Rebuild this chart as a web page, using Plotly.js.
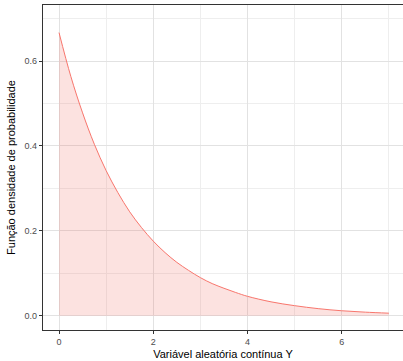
<!DOCTYPE html>
<html>
<head>
<meta charset="utf-8">
<script src="https://cdn.plot.ly/plotly-3.0.1.min.js"></script>
<style>
  html, body { margin: 0; padding: 0; background: #fff; }
  #chart { width: 403px; height: 361px; }
</style>
</head>
<body>
<div id="chart"></div>
<script>
// Density of the continuous random variable Y
const yValues = [0, 0.25, 0.5, 0.75, 1, 1.25, 1.5, 1.75, 2, 2.25, 2.5, 2.75, 3, 3.25, 3.5, 3.75, 4, 4.5, 5, 5.5, 6, 6.5, 7];
const density = [0.667, 0.564, 0.478, 0.404, 0.342, 0.290, 0.245, 0.208, 0.176, 0.149, 0.126, 0.107, 0.090, 0.076, 0.065, 0.055, 0.046, 0.033, 0.024, 0.017, 0.012, 0.0087, 0.0063];
const xTicks = [0, 2, 4, 6];
const yTicks = [0.0, 0.2, 0.4, 0.6];
const yTickText = ["0.0", "0.2", "0.4", "0.6"];

const trace = {
  x: yValues,
  y: density,
  type: "scatter",
  mode: "lines",
  line: { color: "#F8766D", width: 1, shape: "spline", smoothing: 1 },
  fill: "tozeroy",
  fillcolor: "rgba(240,110,100,0.2)",
  hoverinfo: "skip"
};

const gridMajor = "#e2e2e2";
const gridMinor = "#eeeeee";
const layout = {
  width: 403,
  height: 361,
  margin: { l: 43, r: 0, t: 5, b: 31 },
  paper_bgcolor: "#ffffff",
  plot_bgcolor: "#ffffff",
  showlegend: false,
  font: { family: "Liberation Sans, Arial, sans-serif", color: "#000" },
  xaxis: {
    range: [-0.34, 7.30],
    tickvals: xTicks,
    ticktext: xTicks.map(String),
    ticks: "outside",
    ticklen: 3,
    tickwidth: 1,
    tickcolor: "#333333",
    tickfont: { size: 9, color: "#4d4d4d" },
    showgrid: true,
    gridcolor: gridMajor,
    gridwidth: 1,
    minor: { dtick: 1, tick0: 1, showgrid: true, gridcolor: gridMinor, gridwidth: 1 },
    zeroline: false,
    showline: true,
    linecolor: "#333333",
    linewidth: 1.2,
    mirror: true,
    title: { text: "Variável aleatória contínua Y", font: { size: 11, color: "#000" }, standoff: 4 }
  },
  yaxis: {
    range: [-0.0333, 0.732],
    tickvals: yTicks,
    ticktext: yTickText,
    ticks: "outside",
    ticklen: 3,
    tickwidth: 1,
    tickcolor: "#333333",
    tickfont: { size: 9, color: "#4d4d4d" },
    showgrid: true,
    gridcolor: gridMajor,
    gridwidth: 1,
    minor: { dtick: 0.2, tick0: 0.1, showgrid: true, gridcolor: gridMinor, gridwidth: 1 },
    zeroline: false,
    showline: true,
    linecolor: "#333333",
    linewidth: 1.2,
    mirror: false,
    title: { text: "Função densidade de probabilidade", font: { size: 11, color: "#000" }, standoff: 6 }
  }
};

Plotly.newPlot("chart", [trace], layout, { displayModeBar: false, staticPlot: true });
</script>
</body>
</html>
